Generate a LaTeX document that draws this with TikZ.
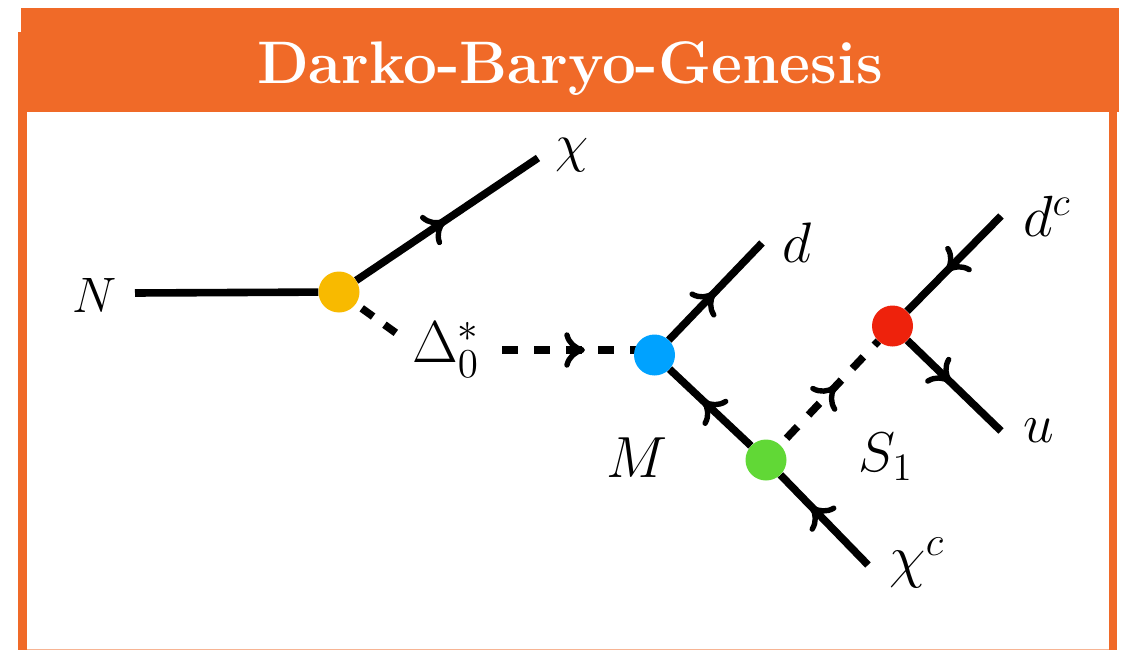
\documentclass[tikz,border=0pt]{standalone}
\usetikzlibrary{decorations.markings,backgrounds}
\definecolor{bandorange}{HTML}{F06A28}
\definecolor{vyellow}{HTML}{F8BA00}
\definecolor{vblue}{HTML}{00A2FF}
\definecolor{vgreen}{HTML}{61D836}
\definecolor{vred}{HTML}{EE220C}
\tikzset{
  vertex/.style={circle,minimum size=41pt,inner sep=0pt,fill=#1,draw=none},
  lab/.style={inner sep=0pt,scale=#1,font=\huge},
  prop/.style={line width=7.6pt,black},
  dashprop/.style={prop,dash pattern=on 16pt off 16pt},
  tipat/.style={postaction={decorate},decoration={markings,mark=at position #1 with {
    \draw[solid,line width=5.4pt,line cap=round,line join=round,black]
      (-18pt,-15pt) .. controls (-16pt,-7pt) and (-10pt,-2pt) .. (-2.7pt,0pt)
      .. controls (-10pt,2pt) and (-16pt,7pt) .. (-18pt,15pt);}}}
}
\begin{document}
\begin{tikzpicture}[x=1pt,y=-1pt]
\useasboundingbox (0,0) rectangle (1127,650);
% vertices
\node[vertex=vyellow] (vy) at (339,292) {};
\node[vertex=vblue] (vb) at (654.5,355) {};
\node[vertex=vgreen] (vg) at (766,460) {};
\node[vertex=vred] (vr) at (892.5,326) {};
% labels
\node[lab=2.4] (lN) at (95,295) {$N$};
\node[lab=2.6] (lchi) at (572,155) {$\chi$};
\node[lab=2.75] (ld) at (797,243) {$d$};
\node[lab=2.8] (ldc) at (1047,216) {$d^c$};
\node[lab=2.65] (lu) at (1039,431) {$u$};
\node[lab=2.8] (lM) at (637,458) {$M$};
\node[lab=2.7] (lS) at (886,457) {$S_1$};
\node[lab=2.85] (lchic) at (917,563) {$\chi^c$};
\node[lab=2.85] (lD) at (446,350) {$\Delta_0^*$};
% free ends
\coordinate (eN) at (135,293);
\coordinate (echi) at (538,158);
\coordinate (ed) at (762,243);
\coordinate (edc) at (1001,216);
\coordinate (eu) at (1001,431);
\coordinate (echic) at (868,565);
\coordinate (eD) at (396,333);
\coordinate (sD) at (502,350);
% title
\node[inner sep=0pt,text=white,font=\fontsize{60.1}{72}\selectfont\bfseries] (title) at (570,69) {Darko-Baryo-Genesis};
\begin{scope}[on background layer]
  \fill[bandorange] (20.5,8) rectangle (1119,32);
  \fill[bandorange] (18.3,32) rectangle (1119,111.7);
  \fill[bandorange] (18.3,111) rectangle (26.7,650);
  \fill[bandorange] (1109,111) rectangle (1116.7,650);
  \fill[bandorange,opacity=.5] (18.3,649) rectangle (1116.7,650);
  \draw[prop] (eN) -- (vy);
  \draw[prop,tipat=0.494] (vy) -- (echi);
  \draw[prop,dash pattern=on 14pt off 14pt,dash phase=20.7pt] (vy) -- (eD);
  \draw[dashprop,tipat=0.544] (sD) -- (sD -| vb);
  \draw[prop,tipat=0.5] (vb) -- (ed);
  \draw[prop,tipat=0.6] (vg) -- (vb);
  \draw[prop,tipat=0.66] (echic) -- (vg);
  \draw[dashprop,dash phase=22.8pt,tipat=0.57] (vg) -- (vr);
  \draw[prop,tipat=0.59] (edc) -- (vr);
  \draw[prop,tipat=0.47] (vr) -- (eu);
\end{scope}
\end{tikzpicture}
\end{document}
